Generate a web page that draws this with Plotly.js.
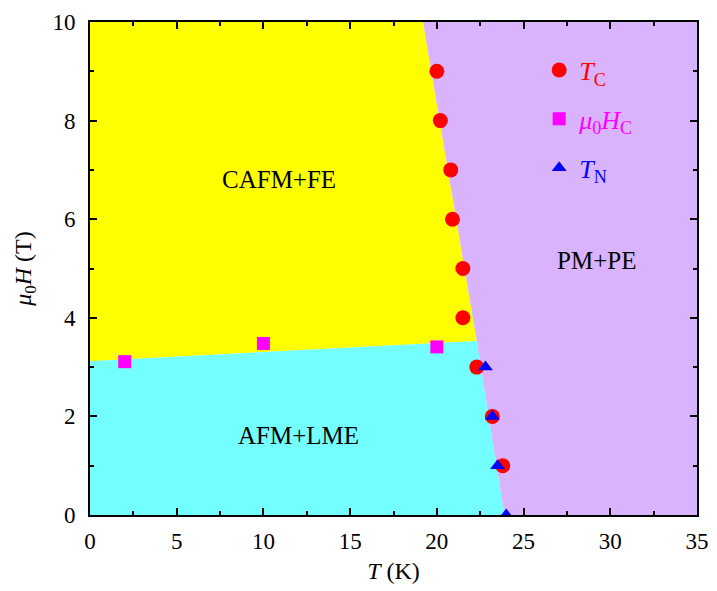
<!DOCTYPE html>
<html><head><meta charset="utf-8">
<script src="https://cdn.plot.ly/plotly-3.0.1.min.js"></script>
<style>body{margin:0;background:#fff}#chart{width:717px;height:591px}</style>
</head><body><div id="chart"></div>
<script>
// Phase boundaries (T in K, H in T)
const yellowT = [0, 22.3, 19.2, 0, 0];
const yellowH = [3.12, 3.53, 10, 10, 3.12];
const cyanT = [0, 0, 22.3, 23.9, 0];
const cyanH = [0, 3.12, 3.53, 0, 0];
const purpleT = [19.2, 22.3, 23.9, 35, 35, 19.2];
const purpleH = [10, 3.53, 0, 0, 10, 10];

// Data
const tcT = [20.0, 20.2, 20.8, 20.9, 21.5, 21.5, 22.3, 23.2, 23.8];
const tcH = [9, 8, 7, 6, 5, 4, 3, 2, 1];
const hcT = [2, 10, 20];
const hcH = [3.11, 3.48, 3.41];
const tnT = [22.8, 23.2, 23.5, 24.0];
const tnH = [3, 2, 1, 0];

const phaseLabels = ['CAFM+FE', 'PM+PE', 'AFM+LME'];
const phaseLabelT = [10.9, 29.2, 12.0];
const phaseLabelH = [6.8, 5.17, 1.62];

const serif = 'Liberation Serif, Times New Roman, serif';

const traces = [
  {x: yellowT, y: yellowH, mode: 'lines', fill: 'toself', fillcolor: '#FFFF00', line: {width: 0}, showlegend: false, hoverinfo: 'skip'},
  {x: cyanT, y: cyanH, mode: 'lines', fill: 'toself', fillcolor: '#73FFFF', line: {width: 0}, showlegend: false, hoverinfo: 'skip'},
  {x: purpleT, y: purpleH, mode: 'lines', fill: 'toself', fillcolor: '#D9B3FC', line: {width: 0}, showlegend: false, hoverinfo: 'skip'},
  {x: tcT, y: tcH, mode: 'markers', name: '<span style="color:#FF0000"><i>T</i><sub>C</sub></span>', legendgroup: 'a',
   marker: {symbol: 'circle', size: 15, color: '#FF0000'}},
  {x: hcT, y: hcH, mode: 'markers', name: '<span style="color:#FF00FF"><i>μ</i><sub>0</sub><i>H</i><sub>C</sub></span>', legendgroup: 'b',
   marker: {symbol: 'square', size: 13, color: '#FF00FF'}},
  {x: tnT, y: tnH, mode: 'markers', name: '<span style="color:#0000FF"><i>T</i><sub>N</sub></span>', legendgroup: 'c',
   marker: {symbol: 'triangle-up', size: 13, color: '#0000FF'}}
];

const annotations = phaseLabels.map((t, i) => ({
  x: phaseLabelT[i], y: phaseLabelH[i], text: t, showarrow: false,
  font: {family: serif, size: 25, color: '#000'}
}));

const axisCommon = {
  showgrid: false, zeroline: false, showline: true, linecolor: '#000', linewidth: 2,
  mirror: 'ticks', ticks: 'inside', ticklen: 7, tickwidth: 2, tickcolor: '#000',
  tickfont: {family: serif, size: 23, color: '#000'}
};

const layout = {
  width: 717, height: 591,
  margin: {l: 90, r: 20, t: 22, b: 76},
  paper_bgcolor: '#fff', plot_bgcolor: '#fff',
  xaxis: Object.assign({}, axisCommon, {range: [0, 35], dtick: 5, tick0: 0,
    minor: {dtick: 2.5, ticks: 'inside', ticklen: 4, tickwidth: 2, tickcolor: '#000'},
    ticklabelstandoff: 4,
    title: {text: '<i>T</i> (K)', font: {family: serif, size: 24, color: '#000'}, standoff: 10}}),
  yaxis: Object.assign({}, axisCommon, {range: [0, 10], dtick: 2, tick0: 0,
    minor: {dtick: 1, ticks: 'inside', ticklen: 4, tickwidth: 2, tickcolor: '#000'},
    ticklabelstandoff: 8,
    title: {text: '<i>μ</i><sub>0</sub><i>H</i> (T)', font: {family: serif, size: 24, color: '#000'}, standoff: 14}}),
  legend: {x: 0.74, y: 0.95, xanchor: 'left', yanchor: 'top', bgcolor: 'rgba(0,0,0,0)',
    font: {family: serif, size: 26}, tracegroupgap: 12},
  annotations: annotations,
  showlegend: true
};

Plotly.newPlot('chart', traces, layout, {displayModeBar: false, staticPlot: true});
</script></body></html>
